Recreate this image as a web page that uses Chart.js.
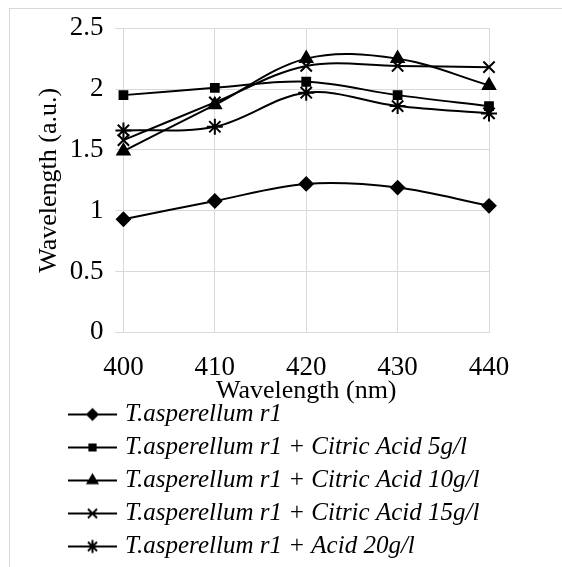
<!DOCTYPE html>
<html>
<head>
<meta charset="utf-8">
<script src="https://cdn.jsdelivr.net/npm/chart.js@4/dist/chart.umd.min.js"></script>
<style>
  html, body { margin: 0; padding: 0; background: #fff; overflow: hidden; }
  #frame { position: absolute; left: 9px; top: 8px; width: 600px; height: 600px; border: 1px solid #d9d9d9; }
  #wrap { position: absolute; left: 0; top: 0; width: 562px; height: 567px; }
</style>
</head>
<body>
<div id="frame"></div>
<div id="wrap"><canvas id="myChart" width="562" height="567"></canvas></div>
<script>
'use strict';

// Data
let wavelengths = ['400', '410', '420', '430', '440'];
let yTicks = [0, 0.5, 1, 1.5, 2, 2.5];
let seriesNames = [
  'T.asperellum r1',
  'T.asperellum r1 + Citric Acid 5g/l',
  'T.asperellum r1 + Citric Acid 10g/l',
  'T.asperellum r1 + Citric Acid 15g/l',
  'T.asperellum r1 + Acid 20g/l'
];
let r1 = [0.93, 1.08, 1.22, 1.19, 1.04];
let citric5 = [1.95, 2.01, 2.06, 1.95, 1.86];
let citric10 = [1.49, 1.87, 2.25, 2.25, 2.03];
let citric15 = [1.58, 1.89, 2.19, 2.19, 2.18];
let acid20 = [1.66, 1.69, 1.97, 1.86, 1.80];

let allValues = [r1, citric5, citric10, citric15, acid20];
let markers = [
  { style: 'rectRot', radius: 6.5 },
  { style: 'rect', radius: 5.5 },
  { style: 'triangle', radius: 7 },
  { style: 'crossRot', radius: 8 },
  { style: 'star', radius: 8 }
];

// small picture of line + marker for the legend
function legendSymbol(marker) {
  let c = document.createElement('canvas');
  c.width = 49;
  c.height = 20;
  let ctx = c.getContext('2d');
  ctx.strokeStyle = '#000';
  ctx.lineWidth = 2;
  ctx.beginPath();
  ctx.moveTo(0, 10);
  ctx.lineTo(49, 10);
  ctx.stroke();
  ctx.fillStyle = '#000';
  Chart.helpers.drawPoint(ctx, { pointStyle: marker.style, radius: marker.radius * 0.8, rotation: 0, borderWidth: 2 }, 24.5, 10);
  return c;
}

let datasets = [];
for (let i = 0; i < allValues.length; i++) {
  datasets.push({
    label: seriesNames[i],
    data: allValues[i],
    borderColor: '#000',
    backgroundColor: '#000',
    borderWidth: 2,
    tension: 0.35,
    pointStyle: markers[i].style,
    pointRadius: markers[i].radius,
    pointBorderWidth: 2,
    pointBorderColor: '#000',
    pointBackgroundColor: '#000',
    order: allValues.length - i
  });
}

// moves the legend so its rows start under the y axis title
let legendShift = {
  id: 'legendShift',
  afterLayout(chart) {
    chart.legend.left = 64.5;
  }
};

let serif = "'Liberation Serif', 'Times New Roman', serif";
Chart.defaults.font.family = serif;
Chart.defaults.color = '#000';

let ctx = document.getElementById('myChart').getContext('2d');
let myChart = new Chart(ctx, { // eslint-disable-line
  type: 'line',
  data: {
    labels: wavelengths,
    datasets: datasets
  },
  plugins: [legendShift],
  options: {
    responsive: false,
    animation: false,
    layout: {
      padding: { left: 10, right: 73, top: 14, bottom: -2 }
    },
    plugins: {
      tooltip: { enabled: false },
      legend: {
        position: 'bottom',
        align: 'start',
        labels: {
          color: '#000',
          usePointStyle: true,
          pointStyleWidth: 40,
          padding: 8,
          font: { family: serif, size: 25, style: 'italic' },
          generateLabels(chart) {
            return chart.data.datasets.map((ds, i) => ({
              text: ds.label,
              pointStyle: legendSymbol(markers[i]),
              fillStyle: '#000',
              strokeStyle: '#000',
              lineWidth: 0,
              hidden: false,
              datasetIndex: i,
              fontColor: '#000'
            }));
          }
        }
      }
    },
    scales: {
      x: {
        offset: false,
        grid: { color: '#d9d9d9', lineWidth: 1, drawTicks: false },
        border: { color: '#d9d9d9' },
        ticks: {
          color: '#000',
          padding: 19,
          maxRotation: 0,
          font: { family: serif, size: 27 }
        },
        title: {
          display: true,
          text: 'Wavelength (nm)',
          color: '#000',
          padding: { top: -27, bottom: -13 },
          font: { family: serif, size: 26 }
        }
      },
      y: {
        min: 0,
        max: 2.5,
        afterBuildTicks(axis) {
          axis.ticks = yTicks.map(v => ({ value: v }));
        },
        grid: { color: '#d9d9d9', lineWidth: 1, tickLength: 8 },
        border: { color: '#d9d9d9' },
        ticks: {
          color: '#000',
          padding: 12,
          font: { family: serif, size: 27 },
          callback: (value) => String(value)
        },
        title: {
          display: true,
          text: 'Wavelength (a.u.)',
          color: '#000',
          padding: { top: 23.5, bottom: -7 },
          font: { family: serif, size: 26 }
        }
      }
    }
  }
});
</script>
</body>
</html>
